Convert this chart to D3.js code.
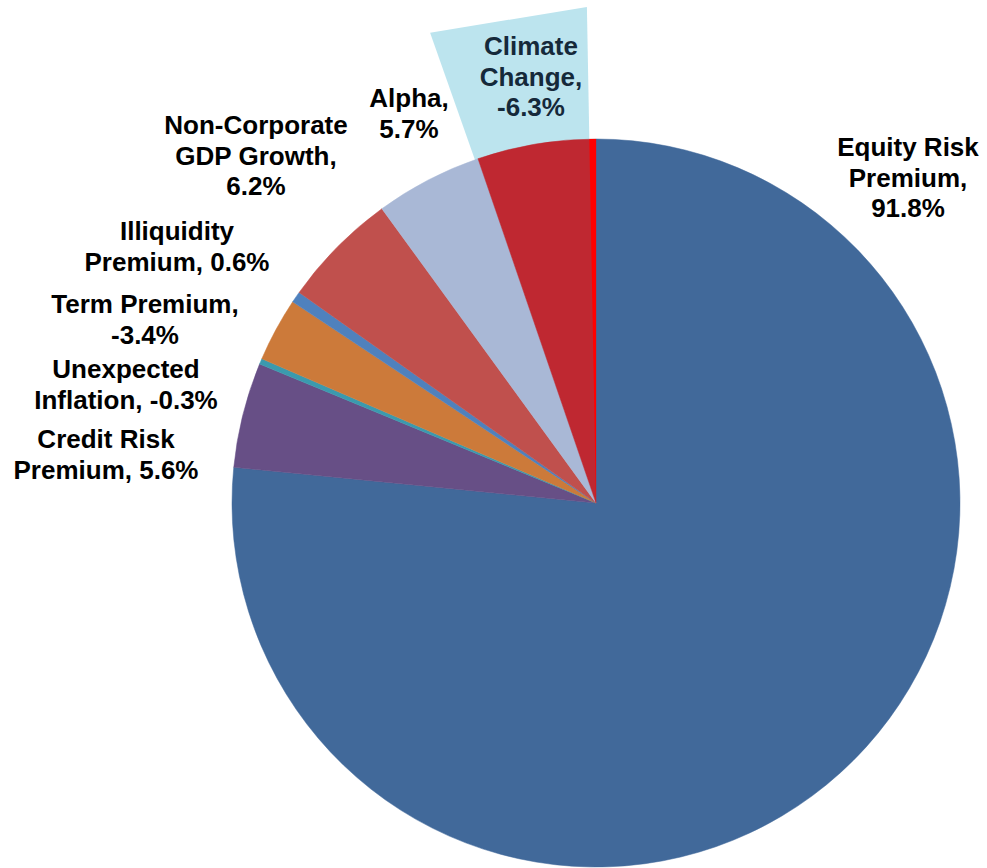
<!DOCTYPE html>
<html>
<head>
<meta charset="utf-8">
<script src="https://cdn.jsdelivr.net/npm/d3@7"></script>
<style>
  html, body { margin: 0; padding: 0; background: #fff; }
  svg { display: block; }
  text { font-family: "Liberation Sans", Arial, sans-serif; font-weight: bold; }
</style>
</head>
<body>
<svg id="chart" width="987" height="868"></svg>
<script>
// ---- data ----
const categories = [
  "Equity Risk Premium", "Credit Risk Premium", "Unexpected Inflation", "Term Premium",
  "Illiquidity Premium", "Non-Corporate GDP Growth", "Alpha", "Climate Change"
];
const values = [91.8, 5.6, -0.3, -3.4, 0.6, 6.2, 5.7, -6.3];
// how the label of each slice is broken into lines ({v} = value)
const labelLines = [
  ["Equity Risk", "Premium,", "{v}"],
  ["Credit Risk", "Premium, {v}"],
  ["Unexpected", "Inflation, {v}"],
  ["Term Premium,", "{v}"],
  ["Illiquidity", "Premium, {v}"],
  ["Non-Corporate", "GDP Growth,", "{v}"],
  ["Alpha,", "{v}"],
  ["Climate", "Change,", "{v}"]
];
// the thin bright-red sliver drawn at the end of the Climate Change slice (share of its value)
const climateEdgeValue = 0.35;

// ---- styles / layout ----
const colors = ["#41699A", "#674F86", "#3B9AAE", "#CC7A3A", "#4F81BD", "#C0504D", "#A9B8D6", "#BF2831"];
const edgeColor = "#FF0000";
const calloutColor = "#BCE4EE";
const labelColors = ["#000", "#000", "#000", "#000", "#000", "#000", "#000", "#15293A"];
const labelAnchors = [[908, 156], [106, 448], [126, 378], [145, 313], [177, 240], [256, 134], [409, 107], [531, 55]];
const lineHeight = 30.7;
const cx = 596, cy = 503, radius = 364;

const svg = d3.select("#chart");
const g = svg.append("g").attr("transform", `translate(${cx},${cy})`);

const pie = d3.pie().sort(null).value(d => Math.abs(d.value));
const data = categories.map((c, i) => ({ name: c, value: values[i], i }));
const arcs = pie(data);
const arc = d3.arc().innerRadius(0).outerRadius(radius);

// callout wedge behind Climate Change
const climate = arcs[arcs.length - 1];
const anglePerUnit = (climate.endAngle - climate.startAngle) / Math.abs(climate.data.value);
const edgeStart = climate.endAngle - climateEdgeValue * anglePerUnit;
const pt = (a, r) => [Math.sin(a) * r, -Math.cos(a) * r];
const p1 = pt(climate.startAngle - 0.009, radius * 1.37);
const p2 = pt(edgeStart, radius * 1.363);
g.append("path")
  .attr("d", `M0,0L${p1[0]},${p1[1]}L${p2[0]},${p2[1]}Z`)
  .attr("fill", calloutColor);

// slices
g.selectAll("path.slice")
  .data(arcs)
  .join("path")
  .attr("class", "slice")
  .attr("d", arc)
  .attr("fill", d => colors[d.data.i])
  .attr("stroke", d => colors[d.data.i])
  .attr("stroke-width", 0.5);

// bright red sliver
g.append("path")
  .attr("d", arc({ startAngle: edgeStart, endAngle: climate.endAngle }))
  .attr("fill", edgeColor);

// labels
const fmt = v => d3.format(".1f")(v).replace("\u2212", "-") + "%";
const labels = svg.append("g");
arcs.forEach(d => {
  const i = d.data.i;
  const [x, y] = labelAnchors[i];
  const t = labels.append("text")
    .attr("x", x).attr("y", y)
    .attr("text-anchor", "middle")
    .attr("font-size", 26)
    .attr("fill", labelColors[i]);
  labelLines[i].forEach((ln, k) => {
    t.append("tspan")
      .attr("x", x)
      .attr("y", y + k * lineHeight)
      .text(ln.replace("{v}", fmt(d.data.value)));
  });
});
</script>
</body>
</html>
